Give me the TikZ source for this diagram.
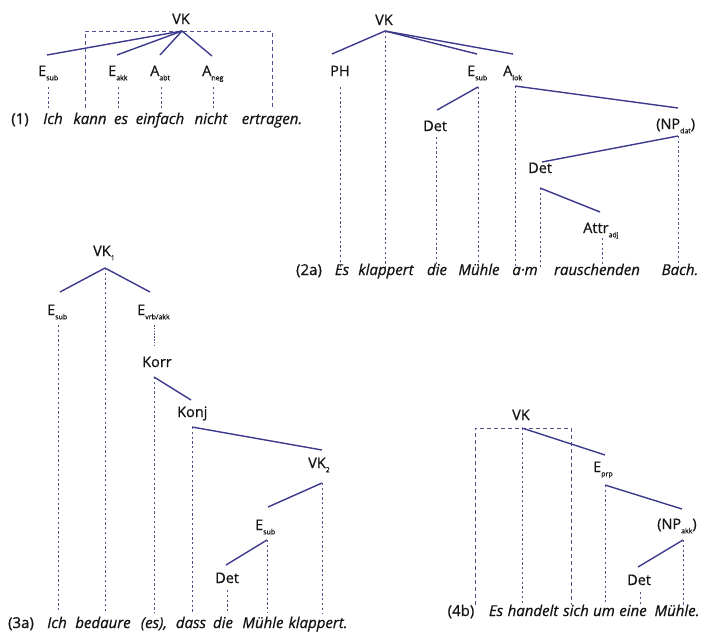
\documentclass[tikz,border=0pt]{standalone}
\usepackage{fontspec}
\setmainfont{Open Sans}[FakeBold=0.7]
\definecolor{ln}{HTML}{3D3A8E}
\definecolor{dl}{HTML}{50508A}
\newcommand{\sbs}[1]{\raisebox{-0.55ex}{\fontsize{7}{7}\selectfont #1}}
\begin{document}
\begin{tikzpicture}[x=1pt,y=-1pt,
 lab/.style={inner sep=0pt, anchor=base west, font=\fontsize{14.5}{16}\selectfont, text=black!92},
 wd/.style={inner sep=0pt, anchor=base, font=\fontsize{15}{17}\selectfont\itshape, text=black!92},
 num/.style={inner sep=0pt, anchor=base, font=\fontsize{15}{17}\selectfont, text=black!92},
 edge/.style={draw=ln, line width=1.4pt},
 dotl/.style={draw=dl, line width=0.95pt, dash pattern=on 2.2pt off 2.6pt},
 boxl/.style={draw=dl, line width=1pt, dash pattern=on 4pt off 3pt},
]
\useasboundingbox (0,0) rectangle (706,635);

% ---------------- Tree (1) ----------------
\node[lab] (a-vk) at (172,24) {VK};
\coordinate (a-r) at (182,31);
\node[lab] (a-esub) at (38,76) {E\sbs{sub}};
\node[lab] (a-eakk) at (108,76) {E\sbs{akk}};
\node[lab] (a-aabt) at (150,76) {A\sbs{abt}};
\node[lab] (a-aneg) at (202,76) {A\sbs{neg}};
\coordinate (a-esubT) at (47,55);  \coordinate (a-esubB) at (48,87);
\coordinate (a-eakkT) at (117,55); \coordinate (a-eakkB) at (118,87);
\coordinate (a-aabtT) at (160,55); \coordinate (a-aabtB) at (161,87);
\coordinate (a-anegT) at (212,56); \coordinate (a-anegB) at (213,87);
\coordinate (a-bl) at (85,108); \coordinate (a-br) at (272,108);
\coordinate (a-end) at (0,108);
\draw[boxl] (a-bl) -- (a-bl |- a-r) -- (a-br |- a-r) -- (a-br);
\draw[edge] (a-r) -- (a-esubT);
\draw[edge] (a-r) -- (a-eakkT);
\draw[edge] (a-r) -- (a-aabtT);
\draw[edge] (a-r) -- (a-anegT);
\foreach \n in {esub,eakk,aabt,aneg} \draw[dotl] (a-\n B) -- (a-\n B |- a-end);
\node[num] (a-s0) at (20,124) {(1)};
\node[wd] (a-s1) at (53,124) {Ich};
\node[wd] (a-s2) at (90,124) {kann};
\node[wd] (a-s3) at (121,124) {es};
\node[wd] (a-s4) at (160,124) {einfach};
\node[wd] (a-s5) at (211,124) {nicht};
\node[wd] (a-s6) at (272,124) {ertragen.};

% ---------------- Tree (2a) ----------------
\node[lab] (b-vk) at (375,25) {VK};
\coordinate (b-r) at (385,31);
\node[lab] (b-ph) at (330,76) {PH};
\node[lab] (b-esub) at (467,76) {E\sbs{sub}};
\node[lab] (b-alok) at (503,76) {A\sbs{lok}};
\node[lab] (b-det) at (423,131) {Det};
\node[lab] (b-np) at (656,129) {(NP\sbs{dat})};
\node[lab] (b-det2) at (528,173) {Det};
\node[lab] (b-attr) at (583,233) {Attr\sbs{adj}};
\coordinate (b-phT) at (332,54);   \coordinate (b-phB) at (340,87);
\coordinate (b-esubT) at (477,54); \coordinate (b-esubB) at (478,87);
\coordinate (b-alokT) at (513,54); \coordinate (b-alokB) at (515,86);
\coordinate (b-detT) at (437,110); \coordinate (b-detB) at (436,137);
\coordinate (b-npT) at (678,108);  \coordinate (b-npB) at (678,136);
\coordinate (b-det2T) at (542,162); \coordinate (b-det2B) at (540,188);
\coordinate (b-attrT) at (600,212); \coordinate (b-attrB) at (602,238);
\coordinate (b-end) at (0,268);
\draw[edge] (b-r) -- (b-phT);
\draw[edge] (b-r) -- (b-esubT);
\draw[edge] (b-r) -- (b-alokT);
\draw[dotl] (b-r) -- (b-r |- b-end);
\draw[edge] (b-esubB) -- (b-detT);
\draw[edge] (b-alokB) -- (b-npT);
\draw[edge] (b-npB) -- (b-det2T);
\draw[edge] (b-det2B) -- (b-attrT);
\foreach \n in {ph,esub,alok,det,np,det2,attr} \draw[dotl] (b-\n B) -- (b-\n B |- b-end);
\node[num] (b-s0) at (309,275) {(2a)};
\node[wd] (b-s1) at (342,275) {Es};
\node[wd] (b-s2) at (386,275) {klappert};
\node[wd] (b-s3) at (437,275) {die};
\node[wd] (b-s4) at (479,275) {Mühle};
\node[wd] (b-s5) at (525,275) {a·m};
\node[wd] (b-s6) at (597,275) {rauschenden};
\node[wd] (b-s7) at (680,275) {Bach.};

% ---------------- Tree (3a) ----------------
\node[lab] (c-vk) at (93,256) {VK\sbs{1}};
\coordinate (c-r) at (105,268);
\node[lab] (c-esub) at (47,315) {E\sbs{sub}};
\node[lab] (c-evrb) at (137,315) {E\sbs{vrb/akk}};
\node[lab] (c-korr) at (142,367) {Korr};
\node[lab] (c-konj) at (177,417) {Konj};
\node[lab] (c-vk2) at (308,468) {VK\sbs{2}};
\node[lab] (c-esub2) at (255,530) {E\sbs{sub}};
\node[lab] (c-det) at (215,583) {Det};
\coordinate (c-esubT) at (60,292);  \coordinate (c-esubB) at (58,325);
\coordinate (c-evrbT) at (150,292); \coordinate (c-evrbB) at (154,325);
\coordinate (c-korrT) at (154,345); \coordinate (c-korrB) at (154,377);
\coordinate (c-konjT) at (191,400); \coordinate (c-konjB) at (192,427);
\coordinate (c-vk2T) at (322,450);  \coordinate (c-vk2B) at (322,483);
\coordinate (c-esub2T) at (268,507); \coordinate (c-esub2B) at (267,540);
\coordinate (c-detT) at (226,565);  \coordinate (c-detB) at (227,590);
\coordinate (c-end) at (0,613);
\draw[edge] (c-r) -- (c-esubT);
\draw[edge] (c-r) -- (c-evrbT);
\draw[dotl] (c-r) -- (c-r |- c-end);
\draw[dotl, dash pattern=on 1.6pt off 1.2pt] (c-evrbB) -- (c-korrT);
\draw[edge] (c-korrB) -- (c-konjT);
\draw[edge] (c-konjB) -- (c-vk2T);
\draw[edge] (c-vk2B) -- (c-esub2T);
\draw[edge] (c-esub2B) -- (c-detT);
\foreach \n in {esub,korr,konj,vk2,esub2,det} \draw[dotl] (c-\n B) -- (c-\n B |- c-end);
\node[num] (c-s0) at (21,628) {(3a)};
\node[wd] (c-s1) at (57,628) {Ich};
\node[wd] (c-s2) at (103,628) {bedaure};
\node[wd] (c-s3) at (154,628) {(es),};
\node[wd] (c-s4) at (191,628) {dass};
\node[wd] (c-s5) at (223,628) {die};
\node[wd] (c-s6) at (263,628) {Mühle};
\node[wd] (c-s7) at (318,628) {klappert.};

% ---------------- Tree (4b) ----------------
\node[lab] (d-vk) at (512,420) {VK};
\coordinate (d-r) at (522,428);
\node[lab] (d-eprp) at (593,472) {E\sbs{prp}};
\node[lab] (d-np) at (657,529) {(NP\sbs{akk})};
\node[lab] (d-det) at (627,585) {Det};
\coordinate (d-eprpT) at (605,455); \coordinate (d-eprpB) at (605,485);
\coordinate (d-npT) at (682,509);   \coordinate (d-npB) at (683,540);
\coordinate (d-detT) at (638,567);  \coordinate (d-detB) at (640,592);
\coordinate (d-bl) at (475,605); \coordinate (d-br) at (571,605);
\coordinate (d-end) at (0,605);
\draw[boxl] (d-bl) -- (d-bl |- d-r) -- (d-br |- d-r) -- (d-br);
\draw[dotl] (d-r) -- (d-r |- d-end);
\draw[edge] (d-r) -- (d-eprpT);
\draw[edge] (d-eprpB) -- (d-npT);
\draw[edge] (d-npB) -- (d-detT);
\foreach \n in {eprp,np,det} \draw[dotl] (d-\n B) -- (d-\n B |- d-end);
\node[num] (d-s0) at (461,616) {(4b)};
\node[wd] (d-s1) at (496,616) {Es};
\node[wd] (d-s2) at (533,616) {handelt};
\node[wd] (d-s3) at (576,616) {sich};
\node[wd] (d-s4) at (604,616) {um};
\node[wd] (d-s5) at (633,616) {eine};
\node[wd] (d-s6) at (677,616) {Mühle.};
\end{tikzpicture}
\end{document}
